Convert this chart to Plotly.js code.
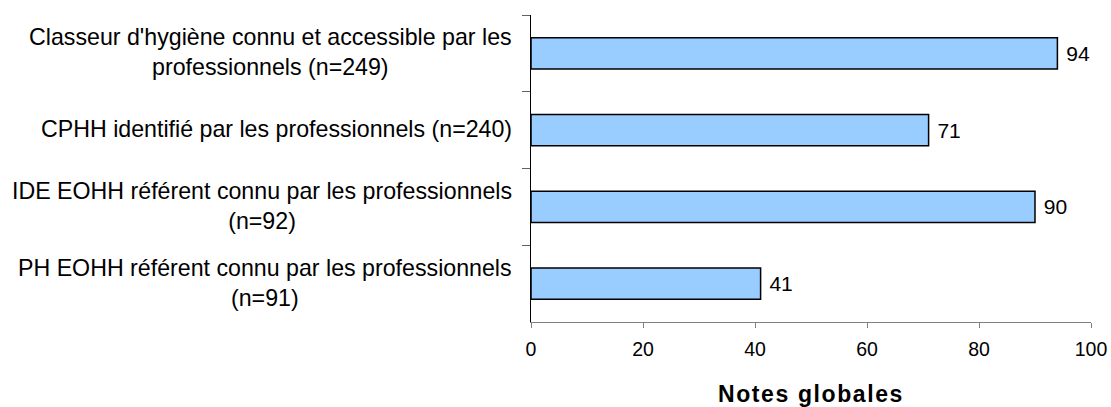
<!DOCTYPE html>
<html>
<head>
<meta charset="utf-8">
<script src="https://cdn.plot.ly/plotly-3.0.1.min.js"></script>
<style>
  html, body { margin: 0; padding: 0; background: #fff; }
  #chart { width: 1111px; height: 407px; }
  .xtitle { letter-spacing: 1.6px; }
</style>
</head>
<body>
<div id="chart"></div>
<script>
// Indicators and their overall scores
const categories = [
  "Classeur d'hygiène connu et accessible par les<br>professionnels (n=249)",
  "CPHH identifié par les professionnels (n=240)",
  "IDE EOHH référent connu par les professionnels<br>(n=92)",
  "PH EOHH référent connu par les professionnels<br>(n=91)"
];
const scores = [94, 71, 90, 41];
const xTickValues = [0, 20, 40, 60, 80, 100];
const xTitle = "Notes globales";

const FONT = '"Liberation Sans", Arial, sans-serif';

const trace = {
  type: 'bar',
  orientation: 'h',
  x: scores,
  y: categories,
  width: 0.41,
  marker: { color: '#99CCFF', line: { color: '#000000', width: 1.5 } },
  texttemplate: ' %{x}',
  textposition: 'outside',
  cliponaxis: false,
  textfont: { family: FONT, size: 21, color: '#000' },
  hoverinfo: 'skip'
};

// Category labels as centred multi-line text left of the axis
const labelAnnotations = categories.map(c => ({
  text: c,
  xref: 'paper', x: 0, xshift: -17, xanchor: 'right',
  yref: 'y', y: c, yanchor: 'middle', yshift: 1,
  align: 'center',
  showarrow: false,
  font: { family: FONT, size: 23.2, color: '#000' }
}));

const layout = {
  width: 1111,
  height: 407,
  margin: { l: 531, r: 20, t: 15, b: 85 },
  paper_bgcolor: '#fff',
  plot_bgcolor: '#fff',
  showlegend: false,
  font: { family: FONT, color: '#000' },
  xaxis: {
    range: [0, 100],
    tickvals: xTickValues,
    ticks: 'outside',
    ticklen: 5,
    tickcolor: '#808080',
    showline: true,
    linecolor: '#808080',
    linewidth: 1,
    showgrid: false,
    zeroline: false,
    tickfont: { family: FONT, size: 19.5, color: '#000' },
    ticklabelstandoff: 5,
    fixedrange: true,
    title: { text: xTitle, font: { family: FONT, size: 23, color: '#000', weight: 'bold' }, standoff: 27 }
  },
  yaxis: {
    type: 'category',
    autorange: 'reversed',
    tickson: 'boundaries',
    ticks: 'outside',
    ticklen: 8,
    tickcolor: '#606060',
    showticklabels: false,
    showline: true,
    linecolor: '#000',
    linewidth: 1,
    showgrid: false,
    zeroline: false,
    fixedrange: true
  },
  annotations: labelAnnotations
};

Plotly.newPlot('chart', [trace], layout, { displayModeBar: false, staticPlot: true });
</script>
</body>
</html>
